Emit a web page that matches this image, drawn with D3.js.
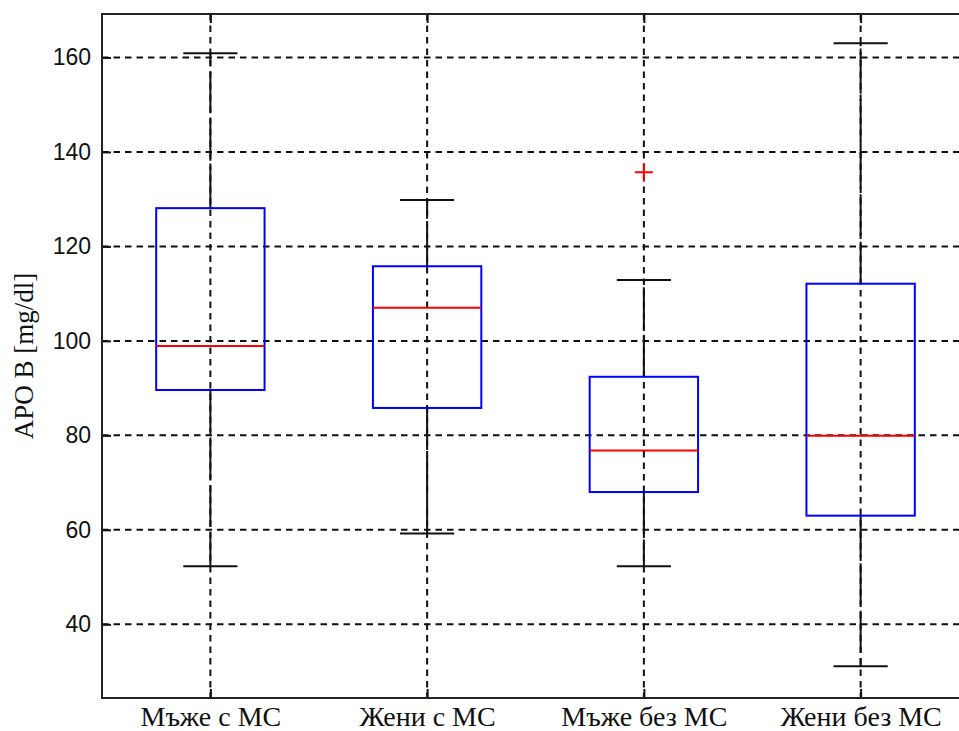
<!DOCTYPE html>
<html lang="bg">
<head>
<meta charset="UTF-8">
<title>APO B boxplot</title>
<script src="https://cdnjs.cloudflare.com/ajax/libs/d3/7.8.5/d3.min.js"></script>
<style>
    html, body { margin: 0; padding: 0; background: #fff; }
    svg { display: block; }
    .ytick { font-family: "Liberation Sans", Arial, sans-serif; font-size: 23px; fill: #111; }
    .xtick { font-family: "Liberation Serif", "Times New Roman", serif; font-size: 28px; fill: #111; }
    .ylabel { font-family: "Liberation Serif", "Times New Roman", serif; font-size: 27px; fill: #111; }
</style>
</head>
<body>
<div id="chart"></div>
<script>
// data
const groups = ["Мъже с МС", "Жени с МС", "Мъже без МС", "Жени без МС"];
const lowerWhisker = [52.3, 59.2, 52.3, 31.1];
const q1 = [89.6, 85.8, 68.0, 63.0];
const median = [98.9, 107.0, 76.8, 79.9];
const q3 = [128.1, 115.8, 92.4, 112.1];
const upperWhisker = [160.9, 129.8, 112.9, 163.0];
const outliers = [[], [], [135.7], []];
const yTicks = [40, 60, 80, 100, 120, 140, 160];

const width = 959, height = 731;
const plotLeft = 102, plotTop = 14, plotBottom = 698, plotRight = 969;

const svg = d3.select("#chart").append("svg")
    .attr("width", width)
    .attr("height", height);

const x = d3.scaleLinear().domain([0.5, 4.5]).range([plotLeft, plotRight]);
const y = d3.scaleLinear().domain([24.4, 169.2]).range([plotBottom, plotTop]);

const data = groups.map((g, i) => ({
    name: g, pos: i + 1,
    lo: lowerWhisker[i], q1: q1[i], med: median[i], q3: q3[i], hi: upperWhisker[i],
    out: outliers[i]
}));

// grid
const grid = svg.append("g")
    .attr("stroke", "#111")
    .attr("stroke-width", 2)
    .attr("stroke-dasharray", "6.5,5");

grid.selectAll("line.h")
    .data(yTicks)
    .join("line")
    .attr("class", "h")
    .attr("x1", plotLeft).attr("x2", plotRight)
    .attr("y1", d => y(d)).attr("y2", d => y(d));

grid.selectAll("line.v")
    .data(data)
    .join("line")
    .attr("class", "v")
    .attr("x1", d => x(d.pos)).attr("x2", d => x(d.pos))
    .attr("y1", plotTop).attr("y2", plotBottom);

// axes with inward ticks
const yAxis = d3.axisLeft(y).tickValues(yTicks).tickSize(-9).tickPadding(11);
const gy = svg.append("g").attr("transform", `translate(${plotLeft},0)`).call(yAxis);
gy.select(".domain").remove();
gy.selectAll(".tick line").attr("stroke", "#111").attr("stroke-width", 2);
gy.selectAll(".tick text").attr("class", "ytick");
gy.attr("font-size", null).attr("font-family", null);

const xAxis = d3.axisBottom(x).tickValues(data.map(d => d.pos))
    .tickFormat((d, i) => groups[i]).tickSize(-9).tickPadding(8);
const gx = svg.append("g").attr("transform", `translate(0,${plotBottom})`).call(xAxis);
gx.select(".domain").remove();
gx.selectAll(".tick line").attr("stroke", "#111").attr("stroke-width", 2);
gx.selectAll(".tick text").attr("class", "xtick");
gx.attr("font-size", null).attr("font-family", null);

const xTop = d3.axisTop(x).tickValues(data.map(d => d.pos)).tickSize(-9).tickFormat("");
const gxt = svg.append("g").attr("transform", `translate(0,${plotTop})`).call(xTop);
gxt.select(".domain").remove();
gxt.selectAll(".tick line").attr("stroke", "#111").attr("stroke-width", 2);

// frame
svg.append("rect")
    .attr("x", plotLeft).attr("y", plotTop)
    .attr("width", plotRight - plotLeft).attr("height", plotBottom - plotTop)
    .attr("fill", "none")
    .attr("stroke", "#222")
    .attr("stroke-width", 2);

// boxes
const boxHalf = 0.25, capHalf = 0.125;
const box = svg.append("g").selectAll("g")
    .data(data)
    .join("g");

box.append("line")
    .attr("x1", d => x(d.pos)).attr("x2", d => x(d.pos))
    .attr("y1", d => y(d.q3)).attr("y2", d => y(d.hi))
    .attr("stroke", "#111").attr("stroke-width", 2)
    .attr("stroke-dasharray", "42,5.5");

box.append("line")
    .attr("x1", d => x(d.pos)).attr("x2", d => x(d.pos))
    .attr("y1", d => y(d.q1)).attr("y2", d => y(d.lo))
    .attr("stroke", "#111").attr("stroke-width", 2)
    .attr("stroke-dasharray", "42,5.5");

box.append("line")
    .attr("x1", d => x(d.pos - capHalf)).attr("x2", d => x(d.pos + capHalf))
    .attr("y1", d => y(d.hi)).attr("y2", d => y(d.hi))
    .attr("stroke", "#111").attr("stroke-width", 2);

box.append("line")
    .attr("x1", d => x(d.pos - capHalf)).attr("x2", d => x(d.pos + capHalf))
    .attr("y1", d => y(d.lo)).attr("y2", d => y(d.lo))
    .attr("stroke", "#111").attr("stroke-width", 2);

box.append("rect")
    .attr("x", d => x(d.pos - boxHalf))
    .attr("y", d => y(d.q3))
    .attr("width", d => x(d.pos + boxHalf) - x(d.pos - boxHalf))
    .attr("height", d => y(d.q1) - y(d.q3))
    .attr("fill", "none")
    .attr("stroke", "#0000ff")
    .attr("stroke-width", 2);

box.append("line")
    .attr("x1", d => x(d.pos - boxHalf)).attr("x2", d => x(d.pos + boxHalf))
    .attr("y1", d => y(d.med)).attr("y2", d => y(d.med))
    .attr("stroke", "#ff0000").attr("stroke-width", 2);

// outliers as red plus signs
box.selectAll("path.out")
    .data(d => d.out.map(v => ({ pos: d.pos, v })))
    .join("path")
    .attr("class", "out")
    .attr("d", d => `M${x(d.pos) - 9},${y(d.v)}H${x(d.pos) + 9}M${x(d.pos)},${y(d.v) - 9}V${y(d.v) + 9}`)
    .attr("stroke", "#ff0000")
    .attr("stroke-width", 2)
    .attr("fill", "none");

// y label
svg.append("text")
    .attr("class", "ylabel")
    .attr("transform", `translate(33,${(plotTop + plotBottom) / 2}) rotate(-90)`)
    .attr("text-anchor", "middle")
    .text("APO B [mg/dl]");
</script>
</body>
</html>
